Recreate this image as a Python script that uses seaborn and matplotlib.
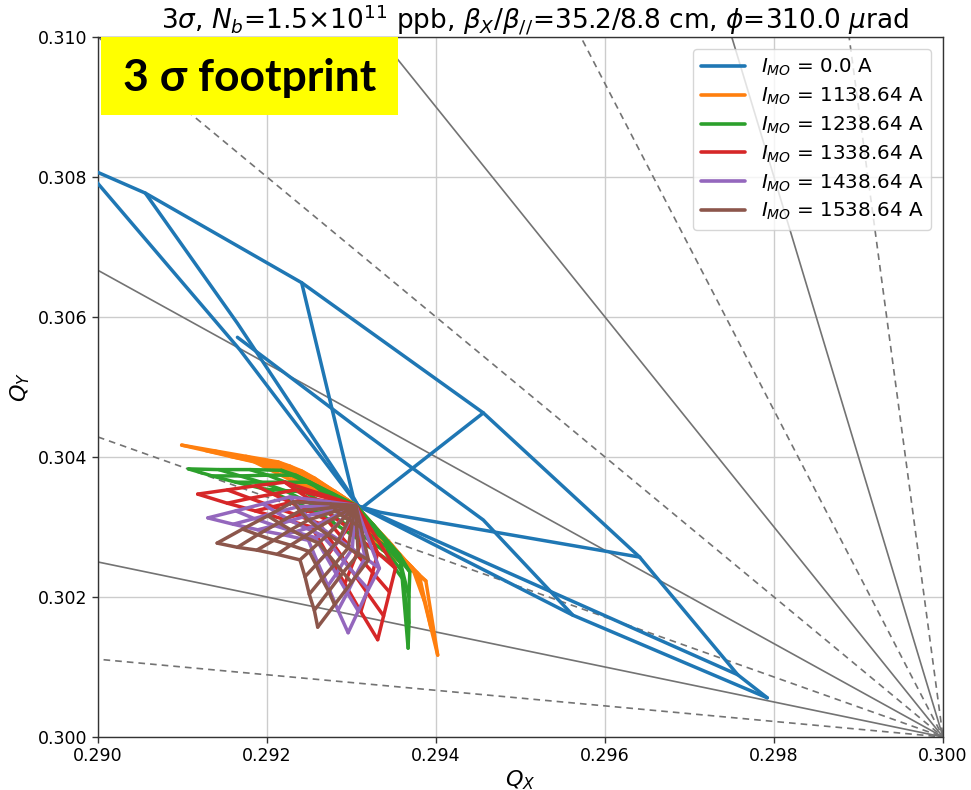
import numpy as np
import pandas as pd
import matplotlib
matplotlib.use("Agg")
import matplotlib.pyplot as plt
import seaborn as sns
from matplotlib.patches import Rectangle

# ---------------- data (tune values in units of 1e-3, offsets from Qx=0.290, Qy=0.300) -------------
currents = ["0.0", "1138.64", "1238.64", "1338.64", "1438.64", "1538.64"]
colors = ["#1f77b4", "#ff7f0e", "#2ca02c", "#d62728", "#9467bd", "#8c564b"]

# Blue (I=0 A) footprint, drawn as polylines
blue_x_paths = [
    [-0.18, 0.56, 2.41, 4.56, 6.41, 7.57, 7.92],
    [-0.18, 1.68, 3.08],
    [0.56, 1.65, 3.08],
    [2.41, 3.02, 3.08],
    [4.56, 3.14],
    [6.41, 3.34, 3.08],
    [7.57, 3.08],
    [7.92, 5.62, 3.08],
    [1.65, 3.10, 4.56, 5.62],
]
blue_y_paths = [
    [8.16, 7.77, 6.49, 4.63, 2.57, 0.89, 0.56],
    [8.16, 5.53, 3.30],
    [7.77, 5.91, 3.30],
    [6.49, 3.43, 3.30],
    [4.63, 3.29],
    [2.57, 3.21, 3.30],
    [0.89, 3.30],
    [0.56, 1.74, 3.30],
    [5.71, 4.39, 3.10, 1.74],
]

# common zero-amplitude tune of the compensated footprints
center_x, center_y = 3.05, 3.31

# grids: rows = amplitude (inner -> outer), cols = angle (0 -> 90 deg)
orange_x = [[2.71, 2.74, 2.80, 2.85, 2.98, 3.12, 3.22, 3.28, 3.37],
            [2.13, 2.27, 2.41, 2.56, 2.86, 3.22, 3.48, 3.63, 3.78],
            [1.75, 1.94, 2.13, 2.32, 2.83, 3.24, 3.53, 3.72, 3.86],
            [1.37, 1.61, 1.85, 2.08, 2.79, 3.26, 3.58, 3.80, 3.94],
            [0.99, 1.28, 1.56, 1.85, 2.75, 3.28, 3.63, 3.88, 4.02]]
orange_y = [[3.57, 3.53, 3.51, 3.47, 3.36, 3.21, 3.08, 3.00, 2.67],
            [3.93, 3.87, 3.80, 3.70, 3.43, 3.07, 2.74, 2.53, 2.34],
            [4.01, 3.94, 3.87, 3.78, 3.42, 2.99, 2.65, 2.42, 1.95],
            [4.09, 4.01, 3.94, 3.85, 3.40, 2.90, 2.55, 2.32, 1.56],
            [4.17, 4.09, 4.01, 3.93, 3.39, 2.81, 2.46, 2.23, 1.17]]
green_x = [[2.70, 2.77, 2.83, 2.90, 2.98, 3.09, 3.19, 3.26, 3.31],
           [2.17, 2.34, 2.51, 2.69, 2.86, 3.16, 3.40, 3.57, 3.69],
           [1.80, 2.01, 2.22, 2.45, 2.78, 3.14, 3.42, 3.58, 3.68],
           [1.43, 1.68, 1.93, 2.21, 2.69, 3.12, 3.44, 3.59, 3.68],
           [1.07, 1.35, 1.63, 1.98, 2.60, 3.10, 3.46, 3.60, 3.67]]
green_y = [[3.51, 3.48, 3.44, 3.37, 3.29, 3.20, 3.11, 3.03, 2.93],
           [3.81, 3.74, 3.64, 3.47, 3.27, 3.03, 2.81, 2.60, 2.36],
           [3.82, 3.74, 3.64, 3.50, 3.25, 2.96, 2.71, 2.49, 2.00],
           [3.82, 3.73, 3.64, 3.52, 3.23, 2.89, 2.61, 2.38, 1.63],
           [3.83, 3.73, 3.64, 3.54, 3.21, 2.81, 2.50, 2.27, 1.27]]
red_x = [[2.72, 2.77, 2.82, 2.89, 2.95, 3.01, 3.08, 3.16, 3.24],
         [2.21, 2.34, 2.49, 2.64, 2.79, 2.96, 3.12, 3.31, 3.52],
         [1.87, 2.07, 2.28, 2.49, 2.71, 2.88, 3.06, 3.25, 3.45],
         [1.53, 1.80, 2.07, 2.35, 2.62, 2.80, 2.99, 3.18, 3.38],
         [1.18, 1.53, 1.86, 2.20, 2.53, 2.72, 2.92, 3.11, 3.31]]
red_y = [[3.44, 3.40, 3.35, 3.30, 3.24, 3.18, 3.11, 3.04, 2.95],
         [3.64, 3.53, 3.41, 3.29, 3.14, 2.99, 2.81, 2.63, 2.41],
         [3.59, 3.47, 3.35, 3.23, 3.10, 2.86, 2.61, 2.35, 2.07],
         [3.53, 3.41, 3.29, 3.17, 3.05, 2.73, 2.40, 2.07, 1.73],
         [3.47, 3.34, 3.23, 3.11, 3.00, 2.60, 2.19, 1.79, 1.39]]
purple_x = [[2.74, 2.78, 2.82, 2.87, 2.92, 2.98, 3.03, 3.09, 3.16],
            [2.27, 2.37, 2.47, 2.60, 2.73, 2.86, 3.01, 3.16, 3.33],
            [1.95, 2.11, 2.28, 2.47, 2.65, 2.78, 2.91, 3.05, 3.20],
            [1.63, 1.85, 2.09, 2.33, 2.57, 2.69, 2.82, 2.95, 3.08],
            [1.30, 1.60, 1.89, 2.19, 2.49, 2.60, 2.72, 2.84, 2.96]]
purple_y = [[3.36, 3.30, 3.25, 3.20, 3.15, 3.11, 3.06, 3.01, 2.95],
            [3.43, 3.29, 3.16, 3.03, 2.91, 2.81, 2.69, 2.56, 2.41],
            [3.33, 3.21, 3.09, 2.98, 2.88, 2.71, 2.51, 2.31, 2.11],
            [3.23, 3.12, 3.02, 2.93, 2.85, 2.60, 2.33, 2.06, 1.80],
            [3.13, 3.04, 2.96, 2.89, 2.81, 2.49, 2.16, 1.81, 1.49]]
brown_x = [[2.75, 2.79, 2.82, 2.87, 2.92, 2.97, 3.01, 3.06, 3.11],
           [2.31, 2.39, 2.49, 2.60, 2.72, 2.84, 2.96, 3.08, 3.20],
           [2.01, 2.14, 2.28, 2.44, 2.61, 2.71, 2.81, 2.90, 3.00],
           [1.71, 1.89, 2.08, 2.28, 2.50, 2.58, 2.65, 2.73, 2.80],
           [1.41, 1.65, 1.88, 2.12, 2.39, 2.45, 2.50, 2.56, 2.60]]
brown_y = [[3.33, 3.28, 3.23, 3.18, 3.14, 3.11, 3.07, 3.03, 3.00],
           [3.36, 3.23, 3.10, 2.99, 2.89, 2.80, 2.70, 2.61, 2.53],
           [3.16, 3.06, 2.96, 2.86, 2.77, 2.63, 2.48, 2.35, 2.21],
           [2.97, 2.89, 2.81, 2.74, 2.65, 2.46, 2.26, 2.08, 1.89],
           [2.77, 2.71, 2.67, 2.61, 2.53, 2.29, 2.04, 1.81, 1.57]]

# resonance lines m*Qx + n*Qy = 3 passing through (0.3, 0.3), m + n = 10
res_m = [1, 2, 3, 4, 5, 6, 7, 8, 9]

x_ticks = [0.290, 0.292, 0.294, 0.296, 0.298, 0.300]
y_ticks = [0.300, 0.302, 0.304, 0.306, 0.308, 0.310]

# ---------------- build long table ----------------
labels = [r"$I_{MO}$ = %s A" % c for c in currents]
rows = []
seg = 0
for xs, ys in zip(blue_x_paths, blue_y_paths):
    for x, y in zip(xs, ys):
        rows.append((labels[0], seg, 0.290 + x * 1e-3, 0.300 + y * 1e-3))
    seg += 1
grids = [(orange_x, orange_y), (green_x, green_y), (red_x, red_y),
         (purple_x, purple_y), (brown_x, brown_y)]
for lab, (gx, gy) in zip(labels[1:], grids):
    gx = np.array(gx); gy = np.array(gy)
    # lines of constant angle, from the centre outwards
    for j in range(gx.shape[1]):
        xs = [center_x] + list(gx[:, j]); ys = [center_y] + list(gy[:, j])
        for x, y in zip(xs, ys):
            rows.append((lab, seg, 0.290 + x * 1e-3, 0.300 + y * 1e-3))
        seg += 1
    # lines of constant amplitude
    for i in range(gx.shape[0]):
        for x, y in zip(gx[i], gy[i]):
            rows.append((lab, seg, 0.290 + x * 1e-3, 0.300 + y * 1e-3))
        seg += 1
df = pd.DataFrame(rows, columns=["label", "seg", "qx", "qy"])

# ---------------- plot ----------------
sns.set_style("ticks", {"text.color": "black", "axes.labelcolor": "black",
                        "xtick.color": "black", "ytick.color": "black"})
plt.rcParams["font.family"] = ["DejaVu Sans"]
plt.rcParams["mathtext.fontset"] = "dejavusans"

fig = plt.figure(figsize=(9.71, 7.90), dpi=100)
ax = fig.add_axes([98 / 971, 1 - 737 / 790, (943 - 98) / 971, 700 / 790])

# resonance lines
for m in res_m:
    n = 10 - m
    xr = np.array([0.280, 0.300])
    yr = (3.0 - m * xr) / n
    ax.plot(xr, yr, color="0.45", lw=1.2, ls="-" if m % 2 == 0 else (0, (4, 3)), zorder=1)

sns.lineplot(data=df, x="qx", y="qy", hue="label", units="seg", estimator=None,
             sort=False, palette=colors, lw=2.5, ax=ax, zorder=3)

ax.set_xlim(0.290, 0.300)
ax.set_ylim(0.300, 0.310)
ax.set_xticks(x_ticks)
ax.set_yticks(y_ticks)
ax.set_xticklabels(["%.3f" % t for t in x_ticks], fontsize=12.5)
ax.set_yticklabels(["%.3f" % t for t in y_ticks], fontsize=12.5)
ax.grid(True, color="#cccccc", lw=1.0, zorder=0)
ax.set_axisbelow(True)
for s in ax.spines.values():
    s.set_color("#333333")
    s.set_linewidth(1.0)
ax.tick_params(direction="out", length=4, width=1, color="#333333")

ax.set_xlabel(r"$Q_X$", fontsize=16, labelpad=2)
ax.set_ylabel(r"$Q_Y$", fontsize=16, labelpad=4)
ax.set_title(r"3$\sigma$, $N_b$=1.5$\times$10$^{11}$ ppb, $\beta_X/\beta_{//}$=35.2/8.8 cm, $\phi$=310.0 $\mu$rad",
             fontsize=19, pad=6, x=0.517)

leg = ax.legend(loc="upper right", fontsize=14.3, frameon=True, handlelength=2.2,
                borderaxespad=0.6, labelspacing=0.38)
for h in leg.get_lines():
    h.set_linewidth(2.6)

# yellow annotation box
fig.patches.append(Rectangle((101 / 971, 1 - 115 / 790), 297 / 971, 78 / 790,
                             transform=fig.transFigure, facecolor="#ffff00",
                             edgecolor="none", zorder=10))
fig.text((101 + 398) / 2 / 971, 1 - 78 / 790, "3 σ footprint", ha="center", va="center",
         fontsize=32, fontweight="bold", color="black", family=["Lato", "DejaVu Sans"], zorder=11)

fig.savefig("out.png", dpi=100)
